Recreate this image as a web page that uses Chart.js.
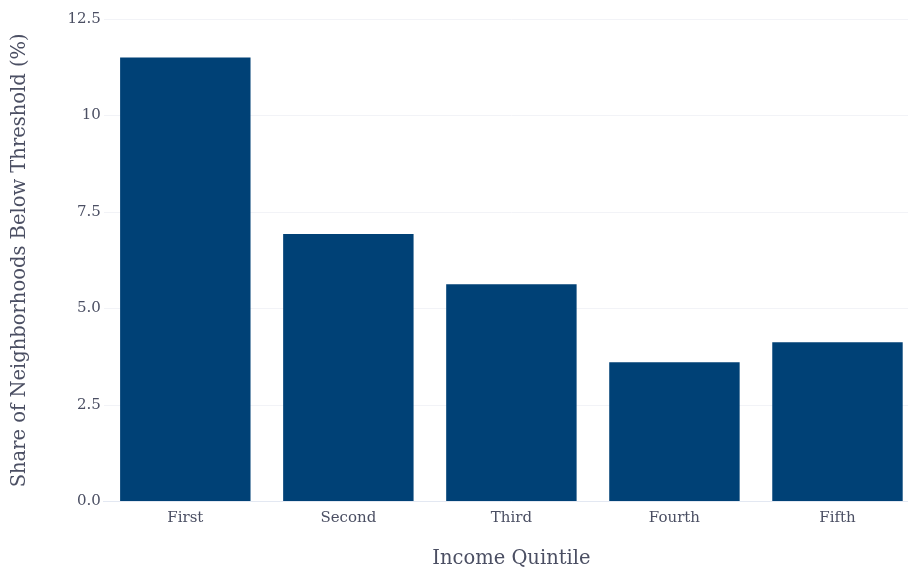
<!doctype html>
<html>
<head>
<meta charset="utf-8" />
<title>Income Quintile</title>
<style>
  html, body { margin: 0; padding: 0; background: #fff; overflow: hidden; }
  #wrap { width: 925px; height: 571px; }
</style>
<script src="https://cdn.jsdelivr.net/npm/chart.js"></script>
</head>
<body>
<div id="wrap"><canvas id="chart"></canvas></div>
<script>
const categories = ['First', 'Second', 'Third', 'Fourth', 'Fifth'];
const shares = [11.5, 6.93, 5.63, 3.61, 4.13];
const yTicks = [0, 2.5, 5, 7.5, 10, 12.5];

const FONT = '"DejaVu Serif", "Liberation Serif", serif';
const TEXT = '#4b4f63';

new Chart(document.getElementById('chart'), {
  type: 'bar',
  data: {
    labels: categories,
    datasets: [{
      data: shares,
      backgroundColor: '#004176',
      borderWidth: 0,
      barPercentage: 1.0,
      categoryPercentage: 0.8
    }]
  },
  options: {
    responsive: true,
    maintainAspectRatio: false,
    animation: false,
    layout: { padding: { left: 8, top: 19, right: 6, bottom: 0 } },
    plugins: { legend: { display: false }, tooltip: { enabled: false } },
    scales: {
      x: {
        grid: { display: false },
        border: { color: '#e3e8f2', width: 1 },
        ticks: { color: TEXT, font: { family: FONT, size: 15 }, padding: 0 },
        title: { display: true, text: 'Income Quintile', color: TEXT, font: { family: FONT, size: 19.5 }, padding: { top: 20, bottom: 0 } }
      },
      y: {
        min: 0,
        max: 12.5,
        afterBuildTicks: (axis) => { axis.ticks = yTicks.map(v => ({ value: v })); },
        grid: { color: '#f2f3f7', lineWidth: 1, drawTicks: false },
        border: { display: false },
        ticks: {
          color: TEXT,
          font: { family: FONT, size: 15 },
          padding: 3,
          callback: (v) => (v === 10 ? '10' : Number(v).toFixed(1))
        },
        title: { display: true, text: 'Share of Neighborhoods Below Threshold (%)', color: TEXT, font: { family: FONT, size: 19.5 }, padding: { top: 0, bottom: 33 } }
      }
    }
  }
});
</script>
</body>
</html>
